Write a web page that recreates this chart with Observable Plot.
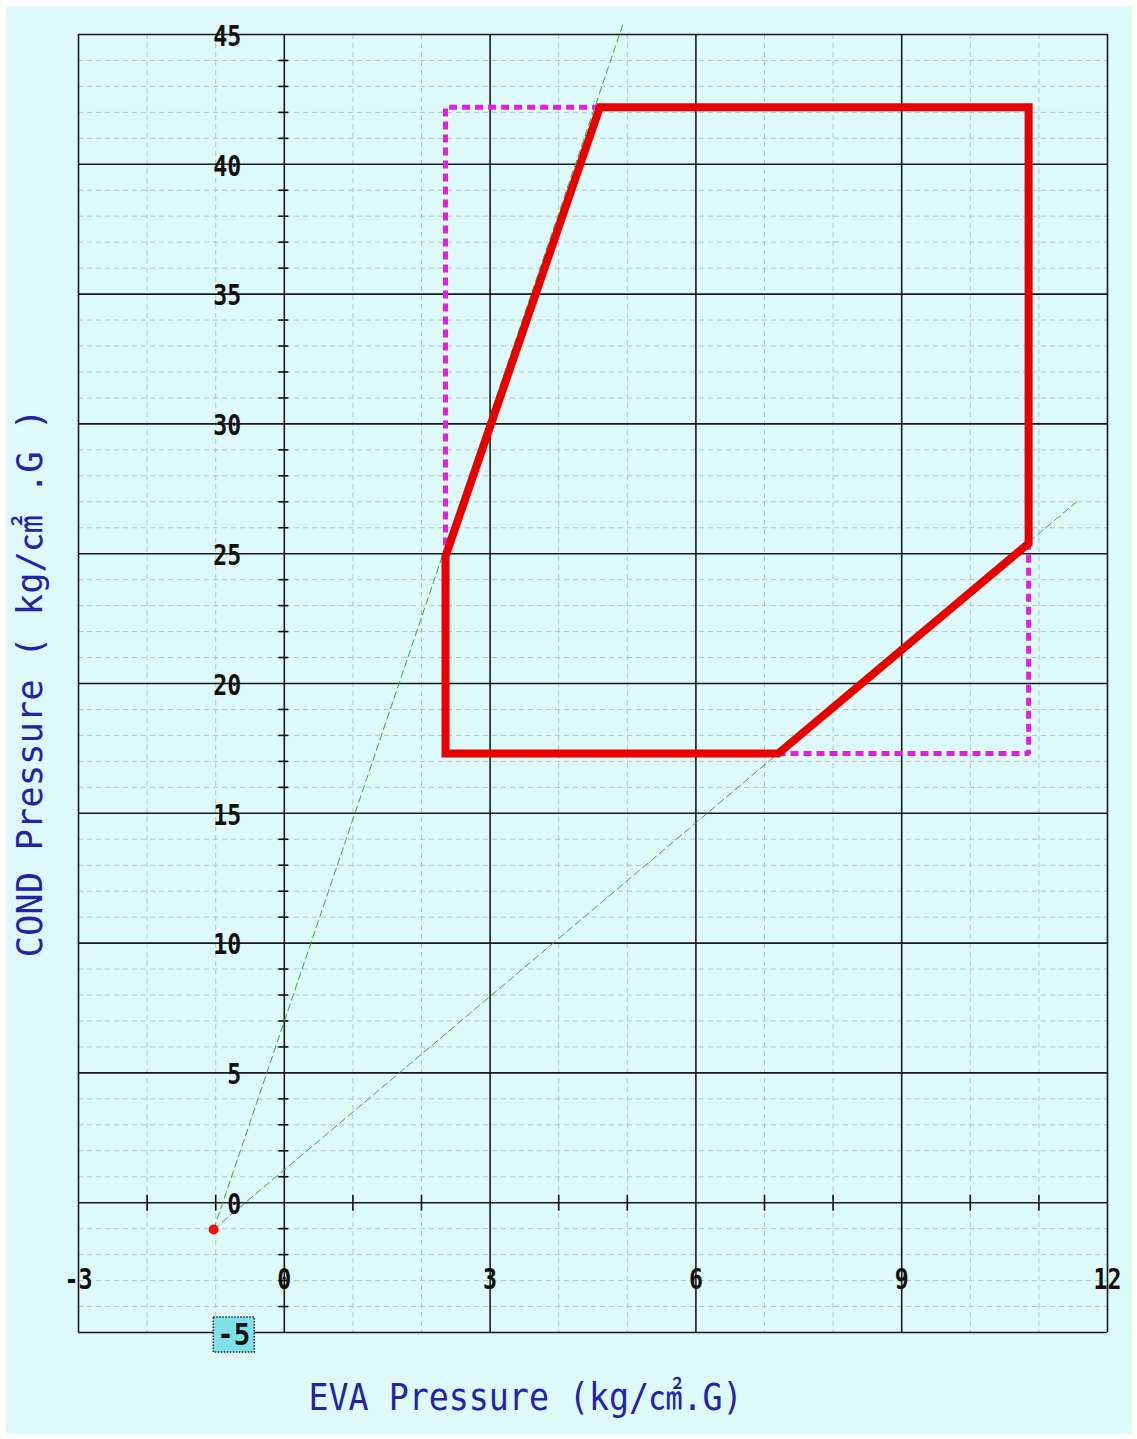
<!DOCTYPE html>
<html>
<head>
<meta charset="utf-8">
<script src="https://cdn.jsdelivr.net/npm/d3@7"></script>
<script src="https://cdn.jsdelivr.net/npm/@observablehq/plot@0.6"></script>
<style>
  html, body { margin: 0; padding: 0; background: #ffffff; }
  #chart { position: absolute; left: 6px; top: 6px; width: 1126px; height: 1428px; background: #ddf9f9; }
</style>
</head>
<body>
<div id="chart"></div>
<script>
// ---- data ----
const xTitle = "EVA Pressure (kg/㎠.G)";
const yTitle = "COND Pressure ( kg/㎠ .G )";

const xMajorTicks = [-3, 0, 3, 6, 9, 12];
const xTickLabels = ["-3", "0", "3", "6", "9", "12"];
const yLabelTicks = [0, 5, 10, 15, 20, 25, 30, 35, 40, 45];
const yTickLabels = ["0", "5", "10", "15", "20", "25", "30", "35", "40", "45"];
const yMajorTicks = [-5, 0, 5, 10, 15, 20, 25, 30, 35, 40, 45];
const highlightedTick = -5;
const highlightedLabel = "-5";
const xMinorTicks = [-2, -1, 1, 2, 4, 5, 7, 8, 10, 11];
const yMinorTicks = d3.range(-4, 45).filter(v => v % 5 !== 0);
const axisX = 0;   // vertical axis drawn at EVA = 0
const axisY = 0;   // horizontal axis drawn at COND = 0

// operating envelope (red)
const envelopeEva  = [2.35, 2.35, 4.6, 10.85, 10.85, 7.2, 2.35];
const envelopeCond = [17.3, 24.9, 42.2, 42.2, 25.4, 17.3, 17.3];
// pressure limits (magenta dotted)
const limitEva  = [2.35, 2.35, 10.85, 10.85, 2.35];
const limitCond = [17.3, 42.2, 42.2, 17.3, 17.3];
// compression-ratio lines (green dashed)
const ratioHighEva  = [-1.03, 4.95];
const ratioHighCond = [-1.03, 45.5];
const ratioLowEva   = [-1.03, 11.55];
const ratioLowCond  = [-1.03, 27.0];
// vacuum point (red dot)
const pointEva  = [-1.03];
const pointCond = [-1.03];

// ---- styles ----
const hTick = { draw(ctx) { ctx.moveTo(-6, 0); ctx.lineTo(4, 0); } };
const vTick = { draw(ctx) { ctx.moveTo(0, -8); ctx.lineTo(0, 8); } };
const labelFont = "DejaVu Sans Mono, Liberation Mono, monospace";
const titleFont = "DejaVu Sans Mono, Noto Sans CJK KR, monospace";

const plot = Plot.plot({
  width: 1126,
  height: 1428,
  marginLeft: 72,
  marginRight: 25,
  marginTop: 28,
  marginBottom: 102,
  style: { background: "#ddf9f9", overflow: "visible" },
  x: { domain: [-3, 12], axis: null },
  y: { domain: [-5, 45], axis: null },
  marks: [
    Plot.ruleX(xMinorTicks, { stroke: "#b8c0c0", strokeWidth: 1, strokeDasharray: "5,4" }),
    Plot.ruleY(yMinorTicks, { stroke: "#b8c0c0", strokeWidth: 1, strokeDasharray: "5,4" }),
    Plot.ruleX(xMajorTicks, { stroke: "#1a1a1a", strokeWidth: 1.6 }),
    Plot.ruleY(yMajorTicks, { stroke: "#1a1a1a", strokeWidth: 1.6 }),
    Plot.dot(yMinorTicks, { x: () => axisX, y: d => d, symbol: hTick, stroke: "#111", strokeWidth: 1.6, fill: "none", r: 1 }),
    Plot.dot(xMinorTicks, { x: d => d, y: () => axisY, symbol: vTick, stroke: "#111", strokeWidth: 1.6, fill: "none", r: 1 }),
    Plot.line(ratioHighEva, { x: ratioHighEva, y: ratioHighCond, stroke: "#3aa83a", strokeWidth: 1, strokeDasharray: "7,4" }),
    Plot.line(ratioLowEva, { x: ratioLowEva, y: ratioLowCond, stroke: "#3aa83a", strokeWidth: 1, strokeDasharray: "7,4" }),
    Plot.line(limitEva, { x: limitEva, y: limitCond, stroke: "#e020e0", strokeWidth: 5, strokeDasharray: "8,5", strokeLinecap: "butt", strokeLinejoin: "miter" }),
    Plot.line(envelopeEva, { x: envelopeEva, y: envelopeCond, stroke: "#e80000", strokeWidth: 8, strokeLinecap: "square", strokeLinejoin: "miter", strokeMiterlimit: 4 }),
    Plot.dot(pointEva, { x: pointEva, y: pointCond, r: 5, fill: "#ee1111" }),
    Plot.text(yLabelTicks, { x: () => axisX, y: d => d, text: (d, i) => yTickLabels[i], dx: -43, dy: 2, textAnchor: "end", fontSize: 29, fontWeight: "bold", fontFamily: labelFont, fill: "#111" }),
    Plot.text(xMajorTicks, { x: d => d, text: (d, i) => xTickLabels[i], frameAnchor: "bottom", dy: -44, fontSize: 29, fontWeight: "bold", fontFamily: labelFont, fill: "#111" }),
    Plot.text([highlightedTick], { x: () => axisX, y: d => d, text: () => highlightedLabel, dx: -34, dy: 3, textAnchor: "end", fontSize: 30, fontWeight: "bold", fontFamily: labelFont, fill: "#111" }),
    Plot.text([xTitle], { text: d => d, frameAnchor: "bottom", textAnchor: "start", dx: -284.5, dy: 77, fontSize: 37, fontFamily: titleFont, fill: "#2222aa" }),
    Plot.text([yTitle], { text: d => d, frameAnchor: "left", textAnchor: "start", dx: -47.5, dy: 274, rotate: -90, fontSize: 35, fontFamily: titleFont, fill: "#2222aa" })
  ]
});

document.getElementById("chart").append(plot);

// fit text widths like the original bitmap font
d3.select(plot).selectAll("text").each(function () {
  const t = this.textContent;
  let len;
  if (t === xTitle) len = 434;
  else if (t === yTitle) len = 549;
  else if (t === highlightedLabel) len = 33;
  else len = t.length * 14;
  this.setAttribute("textLength", len);
  this.setAttribute("lengthAdjust", "spacingAndGlyphs");
  if (t === highlightedLabel) {
    const bb = this.getBBox();
    const cy = bb.y + bb.height / 2;
    const r = document.createElementNS("http://www.w3.org/2000/svg", "rect");
    r.setAttribute("x", bb.x - 4);
    r.setAttribute("y", cy - 17.5);
    r.setAttribute("width", bb.width + 8);
    r.setAttribute("height", 35);
    r.setAttribute("fill", "#7fe2ea");
    r.setAttribute("stroke", "#222");
    r.setAttribute("stroke-width", 1.5);
    r.setAttribute("stroke-dasharray", "1.5,1.5");
    const tr = this.getAttribute("transform");
    if (tr) r.setAttribute("transform", tr);
    this.parentNode.insertBefore(r, this);
  }
});
</script>
</body>
</html>
